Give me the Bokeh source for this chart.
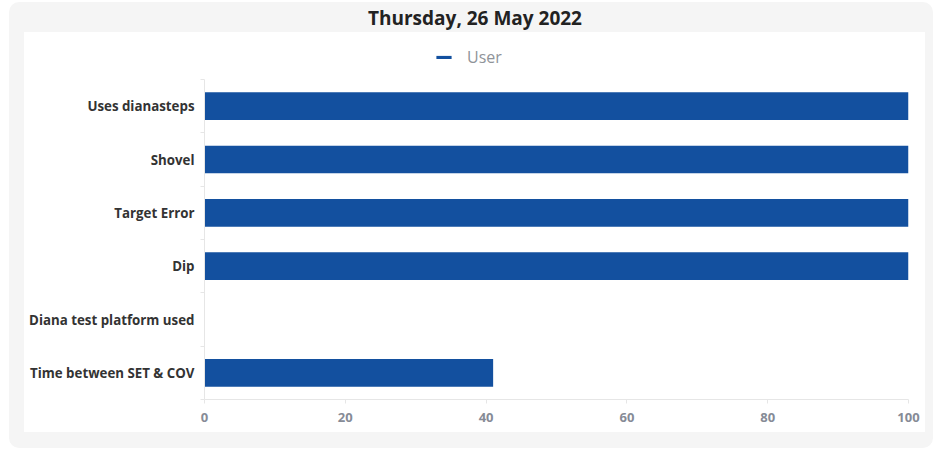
from bokeh.plotting import figure
from bokeh.layouts import column
from bokeh.models import Range1d, Label, Legend, LegendItem, FixedTicker
from bokeh.embed import file_html
from bokeh.resources import INLINE

# ---------------- data ----------------
title_text = "Thursday, 26 May 2022"
categories = ["Uses dianasteps", "Shovel", "Target Error", "Dip",
              "Diana test platform used", "Time between SET & COV"]
user_values = [100, 100, 100, 100, 0, 41]
x_ticks = [0, 20, 40, 60, 80, 100]
series_name = "User"

# category slots: first category at the top
N = len(categories)
slot_centers = [N - 0.5 - i for i in range(N)]
slot_edges = list(range(N + 1))

# ---------------- styles / geometry ----------------
BAR = "#13509f"
FONT = "Open Sans"
GRAY_BG = "#f5f5f5"
AXIS_GRAY = "#e6e6e6"
PANEL_W = 901
B_LEFT, B_RIGHT = 180, 17          # borders shared by all stacked figures
FRAME_W = PANEL_W - B_LEFT - B_RIGHT
TITLE_CX = 450.5                    # title centre, px from panel's left edge
LEGEND_X = 230                      # legend left, px from frame's left edge

common = dict(width=PANEL_W, output_backend="svg", toolbar_location=None,
              min_border_left=B_LEFT, min_border_right=B_RIGHT,
              outline_line_color=None)

# ---------------- title strip (grey) ----------------
t = figure(height=30, x_range=Range1d(0, 1), y_range=Range1d(0, 1),
           x_axis_location=None, y_axis_location=None,
           min_border_top=0, min_border_bottom=0,
           border_fill_color=GRAY_BG, background_fill_color=GRAY_BG,
           margin=(0, 8, 0, 15), **common)
t.xgrid.grid_line_color = None
t.ygrid.grid_line_color = None
t.add_layout(Label(x=(TITLE_CX - B_LEFT) / FRAME_W, y=0.5, text=title_text,
                   text_align="center", text_baseline="middle", text_font=FONT,
                   text_font_style="bold", text_font_size="19px",
                   text_color="#222222"))

# ---------------- legend strip (white) ----------------
lg = figure(height=47, x_range=Range1d(0, 1), y_range=Range1d(0, 1),
            x_axis_location=None, y_axis_location=None,
            min_border_top=0, min_border_bottom=0,
            border_fill_color="white", background_fill_color="white",
            margin=0, **common)
lg.xgrid.grid_line_color = None
lg.ygrid.grid_line_color = None
# zero-width bar: only supplies the legend key swatch
key = lg.hbar(y=[0.5], left=[0], right=[0], height=0.5,
              fill_color=BAR, line_color=None)
legend = Legend(items=[LegendItem(label=series_name, renderers=[key])],
                location=(LEGEND_X, 11), orientation="horizontal",
                glyph_width=19, glyph_height=4, label_height=20,
                label_standoff=14, label_text_font=FONT, label_text_font_size="16px",
                label_text_color="#8f9399", border_line_color=None,
                background_fill_alpha=0, padding=0, margin=0, spacing=0)
lg.add_layout(legend, "center")

# ---------------- main chart ----------------
p = figure(height=353,
           y_range=Range1d(0, N),
           x_range=Range1d(0, 100),
           min_border_top=0, min_border_bottom=33,
           border_fill_color="white", background_fill_color="white",
           margin=0, **common)

p.hbar(y=slot_centers, right=user_values, left=0, height=0.52,
       fill_color=BAR, line_color=None)

p.xgrid.grid_line_color = None
p.ygrid.grid_line_color = None

xa = p.xaxis[0]
xa.ticker = FixedTicker(ticks=x_ticks)
xa.axis_line_color = AXIS_GRAY
xa.major_tick_line_color = AXIS_GRAY
xa.major_tick_out = 4
xa.major_tick_in = 0
xa.minor_tick_line_color = None
xa.major_label_standoff = 9
xa.major_label_text_font = FONT
xa.major_label_text_font_style = "bold"
xa.major_label_text_font_size = "13px"
xa.major_label_text_color = "#868b96"

ya = p.yaxis[0]
ya.ticker = FixedTicker(ticks=slot_centers, minor_ticks=slot_edges)
ya.major_label_overrides = {c: name for c, name in zip(slot_centers, categories)}
ya.axis_line_color = AXIS_GRAY
ya.major_tick_line_color = None
ya.major_tick_out = 0
ya.major_tick_in = 0
ya.minor_tick_line_color = AXIS_GRAY
ya.minor_tick_out = 4
ya.minor_tick_in = 0
ya.major_label_standoff = 6
ya.major_label_text_font = FONT
ya.major_label_text_font_style = "bold"
ya.major_label_text_font_size = "13.3px"
ya.major_label_text_color = "#333333"

white_panel = column(lg, p, spacing=0, margin=(0, 8, 16, 15),
                     styles={"background-color": "white"})
layout = column(t, white_panel, margin=(2, 0, 0, 9), spacing=0,
                styles={"background-color": GRAY_BG, "border-radius": "10px"})

open("out.html", "w").write(file_html(layout, INLINE))
